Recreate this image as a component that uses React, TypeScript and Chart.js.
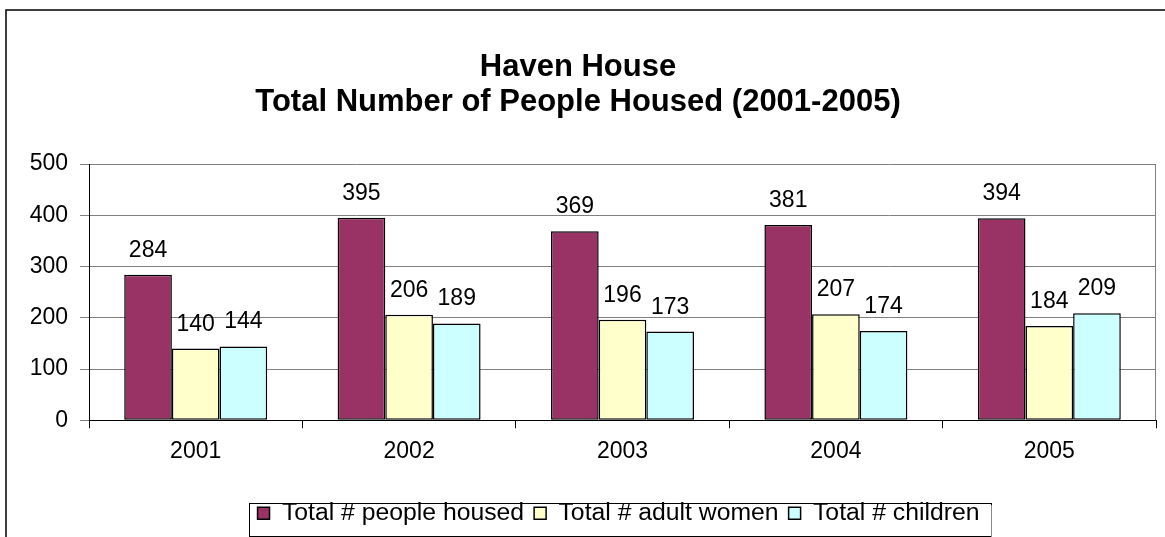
import React, { useEffect, useRef } from 'react';
import { Chart, registerables } from 'chart.js';

Chart.register(...registerables);

const years = ['2001', '2002', '2003', '2004', '2005'];
const peopleHoused = [284, 395, 369, 381, 394];
const adultWomen = [140, 206, 196, 207, 184];
const children = [144, 189, 173, 174, 209];
const seriesNames = ['Total # people housed', 'Total # adult women', 'Total # children'];
const titleLines = ['Haven House', 'Total Number of People Housed (2001-2005)'];
const yMin = 0;
const yMax = 500;
const yStep = 100;

const FONT = '"Liberation Sans", Arial, sans-serif';

const framePlugin = {
  id: 'frame',
  beforeDraw(chart: any) {
    const ctx = chart.ctx;
    ctx.save();
    ctx.strokeStyle = '#000';
    ctx.lineWidth = 1.5;
    ctx.beginPath();
    ctx.moveTo(6, chart.height);
    ctx.lineTo(6, 10);
    ctx.lineTo(chart.width, 10);
    ctx.stroke();
    ctx.restore();
  },
};

const plotBorderPlugin = {
  id: 'plotBorder',
  beforeDatasetsDraw(chart: any) {
    const { ctx, chartArea } = chart;
    ctx.save();
    ctx.strokeStyle = '#808080';
    ctx.lineWidth = 1;
    ctx.beginPath();
    ctx.moveTo(Math.round(chartArea.right) - 0.5, chartArea.top);
    ctx.lineTo(Math.round(chartArea.right) - 0.5, chartArea.bottom);
    ctx.stroke();
    ctx.restore();
  },
};

const valueLabelPlugin = {
  id: 'valueLabels',
  afterDatasetsDraw(chart: any) {
    const ctx = chart.ctx;
    ctx.save();
    ctx.font = `23px ${FONT}`;
    ctx.fillStyle = '#000';
    ctx.textAlign = 'center';
    ctx.textBaseline = 'alphabetic';
    chart.data.datasets.forEach((ds: any, di: number) => {
      const meta = chart.getDatasetMeta(di);
      meta.data.forEach((bar: any, i: number) => {
        ctx.fillText(String(ds.data[i]), bar.x, bar.y - 18);
      });
    });
    ctx.restore();
  },
};

const LEGEND_SHIFT = -4;

const legendBoxPlugin = {
  id: 'legendBox',
  afterUpdate(chart: any) {
    const legend = chart.legend;
    if (!legend) return;
    legend.left += LEGEND_SHIFT;
    legend.right += LEGEND_SHIFT;
    if (legend.legendHitBoxes) {
      legend.legendHitBoxes.forEach((h: any) => { h.left += LEGEND_SHIFT; });
    }
  },
  afterDraw(chart: any) {
    const legend = chart.legend;
    if (!legend || !legend.legendHitBoxes || !legend.legendHitBoxes.length) return;
    const hb = legend.legendHitBoxes;
    const first = hb[0];
    const last = hb[hb.length - 1];
    const left = first.left - 9;
    const right = last.left + last.width + 11;
    const top = first.top + 2;
    const bottom = first.top + 35;
    const ctx = chart.ctx;
    ctx.save();
    ctx.strokeStyle = '#000';
    ctx.lineWidth = 1;
    ctx.strokeRect(Math.round(left) + 0.5, Math.round(top) + 0.5, Math.round(right - left), Math.round(bottom - top));
    ctx.strokeStyle = '#888';
    ctx.beginPath();
    ctx.moveTo(Math.round(left) + 2, Math.round(bottom) + 1.5);
    ctx.lineTo(Math.round(right) + 1.5, Math.round(bottom) + 1.5);
    ctx.lineTo(Math.round(right) + 1.5, Math.round(top) + 2);
    ctx.stroke();
    ctx.restore();
  },
};

export default function App() {
  const canvasRef = useRef<HTMLCanvasElement | null>(null);

  useEffect(() => {
    if (!canvasRef.current) return;
    const common = {
      borderColor: '#000',
      borderWidth: 1.5,
      borderSkipped: false,
      categoryPercentage: 0.67,
      barPercentage: 1.0,
    };
    const chart = new Chart(canvasRef.current, {
      type: 'bar',
      data: {
        labels: years,
        datasets: [
          { label: seriesNames[0], data: peopleHoused, backgroundColor: '#993366', ...common },
          { label: seriesNames[1], data: adultWomen, backgroundColor: '#FFFFCC', ...common },
          { label: seriesNames[2], data: children, backgroundColor: '#CCFFFF', ...common },
        ],
      },
      options: {
        animation: false,
        responsive: true,
        maintainAspectRatio: false,
        layout: { padding: { left: 0, right: 9, top: 0, bottom: 1.5 } },
        plugins: {
          title: {
            display: true,
            text: titleLines,
            color: '#000',
            font: { family: FONT, size: 31, weight: 'bold', lineHeight: 1.13 },
            padding: { top: 50, bottom: 44 },
          },
          legend: {
            display: true,
            position: 'bottom',
            fullSize: false,
            labels: {
              color: '#000',
              boxWidth: 12,
              boxHeight: 12,
              padding: 10,
              font: { family: FONT, size: 24.75 },
            },
          },
          tooltip: { enabled: false },
        },
        scales: {
          x: {
            grid: {
              display: true,
              drawOnChartArea: false,
              drawTicks: true,
              tickLength: 8,
              tickColor: '#000',
              offset: true,
            },
            border: { display: true, color: '#000', width: 1 },
            ticks: { color: '#000', font: { family: FONT, size: 23 }, padding: 10 },
            afterFit: (s: any) => { s.height = 70.5; },
          },
          y: {
            min: yMin,
            max: yMax,
            grid: { color: '#808080', tickLength: 9, tickColor: '#808080' },
            border: { display: true, color: '#000', width: 1 },
            ticks: { stepSize: yStep, color: '#000', font: { family: FONT, size: 23 }, padding: 12 },
            afterFit: (s: any) => { s.width = 89; },
          },
        },
      },
      plugins: [framePlugin, plotBorderPlugin, valueLabelPlugin, legendBoxPlugin],
    } as any);
    return () => chart.destroy();
  }, []);

  return (
    <div style={{ position: 'absolute', left: 0, top: 0, width: 1165, height: 537, background: '#fff' }}>
      <canvas ref={canvasRef} />
    </div>
  );
}
